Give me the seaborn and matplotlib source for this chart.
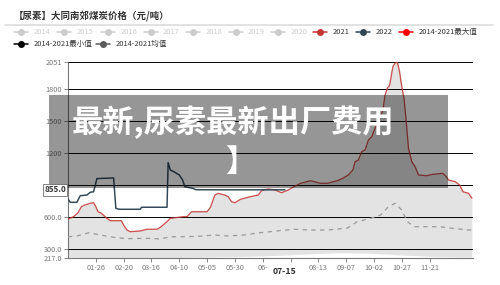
import matplotlib
matplotlib.use("Agg")
import matplotlib.pyplot as plt
import pandas as pd
import seaborn as sns
from matplotlib.lines import Line2D
from matplotlib.patches import Rectangle
from matplotlib.transforms import blended_transform_factory

# ---------------- data ----------------
title = "【尿素】大同南郊煤炭价格（元/吨）"
overlay_line1 = "最新,尿素最新出厂费用"
overlay_line2 = "】"

# 2014-2021 max (day of year -> value)
max_days = [0, 5, 9, 12, 15, 20, 23, 25, 27, 30, 35, 38, 48, 50, 53, 56, 65, 71, 80, 83,
            89, 92, 104, 107, 111, 125, 128, 132, 135, 141, 144, 147, 150, 155, 164, 171,
            174, 180, 186, 192, 198, 203, 209, 218, 227, 233, 242, 247, 252, 256, 258, 261,
            264, 267, 270, 273, 276, 280, 283, 285, 287, 289, 292, 294, 296, 298, 300, 302,
            304, 306, 309, 312, 315, 322, 328, 337, 340, 342, 348, 352, 355, 360, 363]
max_vals = [580, 604, 641, 697, 713, 729, 734, 697, 650, 635, 588, 566, 566, 526, 479, 463,
            470, 486, 486, 504, 557, 588, 604, 604, 650, 650, 690, 806, 822, 806, 791, 744,
            734, 766, 791, 806, 847, 863, 853, 828, 853, 884, 916, 940, 916, 916, 940, 963,
            994, 1040, 1118, 1134, 1212, 1228, 1321, 1352, 1431, 1508, 1602, 1742, 1805,
            1830, 2007, 2040, 2051, 1960, 1820, 1711, 1492, 1243, 1118, 1071, 994, 987,
            1000, 1009, 978, 947, 931, 900, 837, 822, 776]

# 2022
s2022_days = [0, 2, 8, 11, 17, 20, 23, 26, 41, 43, 46, 65, 66, 89, 90, 92, 95, 100, 103,
              105, 112, 115, 131, 150, 170, 195]
s2022_vals = [770, 738, 738, 800, 806, 832, 837, 960, 966, 682, 673, 673, 692, 692, 1109,
              1040, 1025, 994, 947, 884, 869, 856, 855, 855, 855, 855]

# 2014-2021 mean
mean_days = [0, 8, 19, 29, 41, 53, 74, 83, 92, 104, 122, 131, 143, 158, 173, 188, 203,
             218, 233, 251, 260, 272, 281, 288, 294, 300, 305, 311, 322, 334, 346, 360, 363]
mean_vals = [416, 423, 454, 432, 411, 398, 401, 395, 416, 416, 423, 432, 423, 432, 454,
             470, 486, 479, 479, 496, 557, 588, 619, 697, 729, 666, 557, 510, 510, 510,
             495, 479, 479]

# 2014-2021 min
min_days = [0, 30, 60, 90, 120, 150, 180, 210, 240, 270, 300, 330, 363]
min_vals = [224, 220, 217, 220, 225, 230, 238, 252, 266, 262, 245, 230, 226]

# tick labels as shown (06-24 partly and 07-19 fully hidden behind the 07-15 pointer label,
# 900 hidden behind the 855.0 pointer label)
xtick_days = [25, 50, 75, 100, 125, 150, 175, 200, 225, 250, 275, 300, 325]
xtick_labels = ["01-26", "02-20", "03-16", "04-10", "05-05", "05-30", "06-", "",
                "08-13", "09-07", "10-02", "10-27", "11-21"]
ytick_vals = [217, 300, 600, 900, 1200, 1500, 1800, 2051]
ytick_labels = ["217.0", "300.0", "600.0", "", "1200", "1500", "1800", "2051"]

pointer_day = 195
pointer_day_label = "07-15"
pointer_value = 855.0

legend_row1 = ["2014", "2015", "2016", "2017", "2018", "2019", "2020", "2021", "2022",
               "2014-2021最大值"]
legend_row1_colors = ["#cccccc"] * 7 + ["#c23531", "#2f4554", "#ff0000"]
legend_row2 = ["2014-2021最小值", "2014-2021均值"]
legend_row2_colors = ["#000000", "#5a5a5a"]

# ---------------- style ----------------
sns.set_theme(style="white")
plt.rcParams["font.family"] = ["Noto Sans CJK SC", "DejaVu Sans"]

W, H = 500, 285
fig = plt.figure(figsize=(W / 100, H / 100), dpi=100)
fig.patch.set_facecolor("white")


def fx(px):
    return px / W


def fy(py):
    return 1 - py / H


ax = fig.add_axes([fx(68), fy(258), 405 / W, 196 / H])
ax.set_facecolor("white")

df_max = pd.DataFrame({"day": max_days, "val": max_vals})
df_min = pd.DataFrame({"day": min_days, "val": min_vals})
df_22 = pd.DataFrame({"day": s2022_days, "val": s2022_vals})
df_mean = pd.DataFrame({"day": mean_days, "val": mean_vals})

# band: gray area under max, white area under min
ax.fill_between(df_max["day"], df_max["val"], 217, color="#e3e3e3", lw=0, zorder=1)
ax.fill_between(df_min["day"], df_min["val"], 217, color="white", lw=0, zorder=1.1)

sns.lineplot(data=df_mean, x="day", y="val", ax=ax, color="#9a9a9a", lw=0.9,
             linestyle=(0, (3.5, 3.5)), zorder=3, legend=False)
sns.lineplot(data=df_max, x="day", y="val", ax=ax, color="#c23531", lw=0.95, alpha=0.85,
             zorder=3, legend=False)
sns.lineplot(data=df_22, x="day", y="val", ax=ax, color="#2f4554", lw=1.05, zorder=3.2,
             legend=False)

ax.set_xlim(0, 364)
ax.set_ylim(217, 2051)
ax.set_xlabel("")
ax.set_ylabel("")
ax.set_xticks(xtick_days)
ax.set_xticklabels(xtick_labels)
ax.set_yticks(ytick_vals)
ax.set_yticklabels(ytick_labels)
ax.tick_params(axis="both", length=3, width=0.6, color="#777", labelsize=5.3,
               labelcolor="#777", pad=1.5, left=True, bottom=True)
ax.yaxis.grid(True, color=(0, 0, 0, 0.07), lw=0.7)
ax.xaxis.grid(False)
ax.set_axisbelow(False)
for s in ["top", "right"]:
    ax.spines[s].set_visible(False)
for s in ["left", "bottom"]:
    ax.spines[s].set_color("#777")
    ax.spines[s].set_linewidth(0.8)

# ---------------- title & legend ----------------
fig.text(fx(14), fy(15.7), title, fontsize=6.8, fontweight="bold", color="#333",
         va="center", ha="left")
fig.add_artist(Line2D([fx(5), fx(493)], [fy(24.5), fy(24.5)], color="#dddddd", lw=1.2))

row1_x = [20.7, 64.3, 108.3, 150.5, 193, 235.5, 278.3, 320, 363, 405.7]


def legend_item(cx, cy, label, color, txt_color):
    fig.add_artist(Line2D([fx(cx - 7), fx(cx + 7)], [fy(cy), fy(cy)], color=color, lw=1.1))
    fig.add_artist(Line2D([fx(cx)], [fy(cy)], color=color, marker="o", markersize=5,
                          markeredgewidth=0))
    fig.text(fx(cx + 12.5), fy(cy), label, fontsize=5.4, color=txt_color,
             va="center", ha="left")


for i, (lab, col) in enumerate(zip(legend_row1, legend_row1_colors)):
    tcol = "#cccccc" if col == "#cccccc" else "#333333"
    legend_item(row1_x[i], 31.7, lab, col, tcol)
for cx, lab, col in zip([20.7, 103.3], legend_row2, legend_row2_colors):
    legend_item(cx, 44, lab, col, "#333333")

# ---------------- axis pointer labels ----------------
ty = blended_transform_factory(ax.transAxes, ax.transData)
tx = blended_transform_factory(ax.transData, ax.transAxes)
fig.text(-0.032, pointer_value, f"{pointer_value:.1f}", transform=ty, fontsize=5.8,
         fontweight="bold", color="#333", ha="center", va="center", zorder=20,
         bbox=dict(boxstyle="square,pad=0.15", fc="white", ec="#555", lw=0.5))
fig.text(pointer_day, -0.045, pointer_day_label, transform=tx, fontsize=6.3,
         fontweight="bold", color="#333", ha="center", va="top", zorder=20,
         bbox=dict(boxstyle="square,pad=0.2", fc="white", ec="none"))

# ---------------- overlay watermark ----------------
fig.add_artist(Rectangle((fx(49), fy(188)), (448 - 49) / W, (188 - 95) / H,
                         transform=fig.transFigure, facecolor=(0, 0, 0, 0.41),
                         edgecolor="none", zorder=10))
fig.text(fx(233), fy(122), overlay_line1, fontsize=22.5, fontweight="bold", color="white",
         ha="center", va="center", zorder=11)
fig.text(fx(240), fy(162), overlay_line2, fontsize=22, fontweight="bold", color="white",
         ha="center", va="center", zorder=11)

fig.savefig("out.png", dpi=100)
